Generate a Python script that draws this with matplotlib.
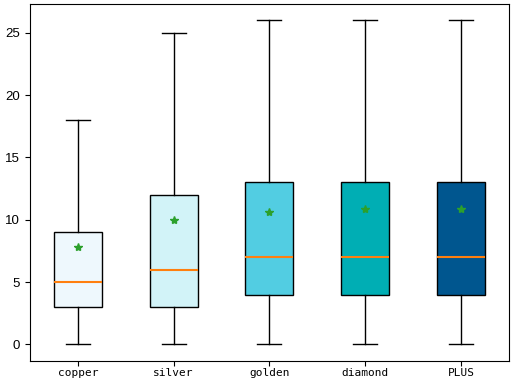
import matplotlib
matplotlib.use("Agg")
import matplotlib.pyplot as plt

categories = ["copper", "silver", "golden", "diamond", "PLUS"]
whislo = [0, 0, 0, 0, 0]
q1 = [3, 3, 4, 4, 4]
med = [5, 6, 7, 7, 7]
q3 = [9, 12, 13, 13, 13]
whishi = [18, 25, 26, 26, 26]
means = [7.8, 10.0, 10.6, 10.85, 10.85]
colors = ["#EEF8FD", "#D2F3F8", "#52CDE2", "#00AEB4", "#00568F"]

stats = []
for i, c in enumerate(categories):
    stats.append(dict(label=c, whislo=whislo[i], q1=q1[i], med=med[i],
                      q3=q3[i], whishi=whishi[i], mean=means[i], fliers=[]))

fig = plt.figure(figsize=(5.11, 3.82), dpi=100)
ax = fig.add_axes([0.0587, 0.056, 0.937, 0.933])
bp = ax.bxp(stats, patch_artist=True, showmeans=True, widths=0.5,
            meanprops=dict(marker="*", markerfacecolor="tab:green",
                           markeredgecolor="tab:green", markersize=6),
            medianprops=dict(color="tab:orange", linewidth=1.5))
for patch, col in zip(bp["boxes"], colors):
    patch.set_facecolor(col)
    patch.set_edgecolor("black")
ax.tick_params(axis="x", pad=2)
for lab in ax.get_xticklabels():
    lab.set_family(["DejaVu Sans Mono"])
    lab.set_fontsize(8)
for lab in ax.get_yticklabels():
    lab.set_family(["Liberation Sans Narrow", "Liberation Sans"])
ax.tick_params(axis="y", labelsize=9.5)
fig.savefig("out.png", dpi=100)
